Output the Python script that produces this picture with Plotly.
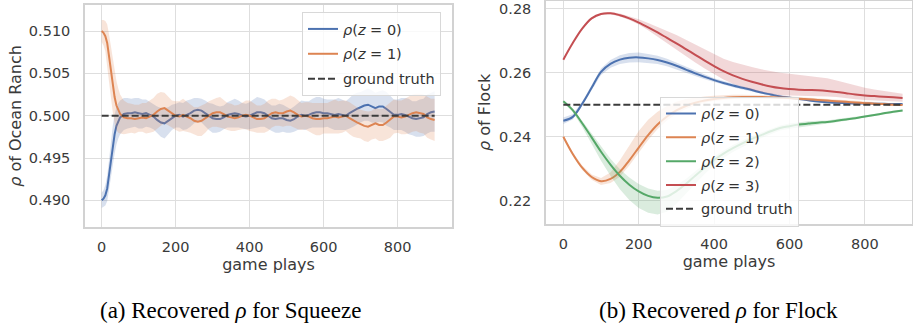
import plotly.graph_objects as go

# ---------------- data: (a) Squeeze ----------------
sq_x = [0, 5, 10, 15, 20, 25, 30, 35, 40, 45, 50] + list(range(60, 901, 10))
sq_blue = [.4900, .4902, .4906, .4914, .4930, .4948, .4965, .4978, .4988, .4994, .4998,
           .5002, .5003, .5003, .5004, .5003, .5002, .5003, .5001, .4999, .4995,
           .4992, .4991, .4994, .4998, .5000, .5001, .4999, .5001, .5003, .5006,
           .5007, .5006, .5003, .4999, .4997, .4996, .4996, .4998, .5001, .5002,
           .5003, .5002, .5000, .4999, .5000, .5002, .5004, .5004, .5003, .5000,
           .4997, .4996, .4997, .4997, .4995, .4994, .4996, .4999, .5001, .5000,
           .5001, .5003, .5004, .5004, .5003, .5003, .5002, .5001, .5002, .5001,
           .5000, .5003, .5006, .5008, .5010, .5012, .5013, .5011, .5009, .5011,
           .5011, .5008, .5005, .5001, .5001, .5002, .5001, .4999, .4997, .4996,
           .4997, .4998, .5002, .5004, .5005]
sq_orange = [.5100, .5098, .5094, .5086, .5070, .5052, .5035, .5022, .5012, .5006, .5002,
             .4998, .4997, .4997, .4996, .4997, .4998, .4997, .4999, .5001, .5005,
             .5008, .5009, .5006, .5002, .5000, .4999, .5001, .4999, .4997, .4994,
             .4993, .4994, .4997, .5001, .5003, .5004, .5004, .5002, .4999, .4998,
             .4997, .4998, .5000, .5001, .5000, .4998, .4996, .4996, .4997, .5000,
             .5003, .5004, .5003, .5003, .5005, .5006, .5004, .5001, .4999, .5000,
             .4999, .4997, .4996, .4996, .4997, .4997, .4998, .4999, .4998, .4999,
             .5000, .4997, .4994, .4992, .4990, .4988, .4987, .4989, .4991, .4989,
             .4989, .4992, .4995, .4999, .4999, .4998, .4999, .5001, .5003, .5004,
             .5003, .5002, .4998, .4996, .4995]
# band half widths, in units of 1e-4
sq_blue_hw = [9, 10, 12, 15, 18, 21, 23, 23, 22, 21, 20,
              19, 18, 17, 17, 18, 17, 16, 15, 15, 16,
              17, 18, 16, 15, 14, 15, 16, 17, 16, 15,
              14, 14, 15, 16, 17, 16, 15, 14, 15, 16,
              17, 16, 15, 15, 16, 17, 18, 17, 16, 15,
              15, 16, 17, 16, 15, 14, 15, 16, 17, 17,
              16, 17, 18, 18, 17, 16, 17, 18, 19, 18,
              17, 18, 19, 19, 18, 18, 19, 19, 18, 18,
              19, 20, 19, 18, 18, 19, 20, 21, 20, 21,
              22, 22, 23, 23, 24]
sq_orange_hw = [13, 15, 18, 22, 26, 29, 31, 31, 29, 26, 23,
                20, 18, 17, 17, 16, 17, 18, 19, 20, 21,
                20, 18, 17, 16, 17, 18, 19, 18, 17, 16,
                17, 18, 17, 16, 16, 17, 18, 17, 16, 16,
                15, 15, 16, 17, 18, 17, 16, 16, 17, 18,
                17, 16, 15, 16, 17, 18, 18, 17, 16, 16,
                17, 18, 19, 19, 18, 18, 19, 20, 19, 19,
                18, 19, 19, 18, 17, 18, 18, 17, 18, 19,
                19, 20, 21, 20, 19, 20, 21, 22, 22, 22,
                23, 23, 24, 24, 25]
sq_truth = 0.5

# ---------------- data: (b) Flock ----------------
fl_x = list(range(0, 901, 25))
fl_blue = [.2450, .2462, .2503, .2553, .2603, .2628, .2641, .2647, .2648, .2645, .2640,
           .2632, .2622, .2610, .2598, .2587, .2577, .2568, .2560, .2553, .2546, .2538,
           .2532, .2526, .2522, .2518, .2514, .2510, .2508, .2506, .2505, .2504, .2504,
           .2503, .2503, .2502, .2502]
fl_orange = [.2400, .2346, .2303, .2274, .2261, .2268, .2290, .2326, .2366, .2405, .2438,
             .2463, .2482, .2496, .2506, .2513, .2518, .2521, .2523, .2524, .2524, .2524,
             .2523, .2522, .2521, .2519, .2517, .2515, .2513, .2511, .2509, .2507, .2505,
             .2503, .2502, .2500, .2499]
fl_green = [.2511, .2483, .2442, .2398, .2353, .2313, .2278, .2250, .2229, .2215, .2209,
            .2213, .2230, .2252, .2278, .2303, .2327, .2347, .2364, .2379, .2393, .2405,
            .2417, .2427, .2433, .2438, .2441, .2444, .2446, .2450, .2454, .2458, .2463,
            .2468, .2473, .2478, .2482]
fl_red = [.2641, .2693, .2738, .2770, .2784, .2786, .2780, .2770, .2757, .2742, .2726,
          .2709, .2692, .2674, .2656, .2638, .2621, .2605, .2592, .2581, .2572, .2564,
          .2557, .2552, .2549, .2547, .2546, .2545, .2543, .2540, .2536, .2532, .2529,
          .2527, .2525, .2523, .2521]
# band spreads below / above the line, units of 1e-4
fl_blue_lo = [10, 8, 6, 8, 10, 12, 14, 15, 15, 14, 13, 12, 10, 9, 8, 7, 6, 6, 5, 5, 5, 4,
              4, 4, 4, 3, 3, 3, 3, 3, 3, 3, 2, 2, 2, 2, 2]
fl_blue_hi = fl_blue_lo
fl_orange_lo = [3, 5, 7, 9, 12, 13, 15, 16, 16, 15, 14, 12, 10, 9, 8, 7, 6, 6, 5, 5, 5, 5,
                4, 4, 4, 4, 4, 3, 3, 3, 3, 3, 3, 3, 3, 3, 3]
fl_orange_hi = [3, 5, 7, 8, 10, 20, 36, 47, 52, 48, 40, 33, 27, 22, 17, 13, 10, 9, 8, 7, 7, 6,
                6, 6, 5, 5, 5, 5, 4, 4, 4, 4, 4, 3, 3, 3, 3]
fl_green_lo = [3, 6, 12, 20, 28, 35, 42, 48, 52, 53, 52, 48, 40, 33, 26, 20, 16, 14, 12, 11,
               10, 9, 9, 8, 8, 7, 7, 6, 5, 5, 4, 4, 3, 3, 3, 3, 3]
fl_green_hi = [3, 5, 8, 12, 15, 18, 20, 22, 23, 23, 22, 20, 18, 16, 14, 12, 11, 10, 10, 9,
               9, 8, 8, 8, 8, 7, 7, 6, 5, 5, 4, 4, 3, 3, 3, 3, 3]
fl_red_lo = [2, 2, 3, 3, 3, 3, 4, 5, 6, 9, 12, 16, 20, 22, 24, 25, 26, 26, 26, 25, 25, 24,
             23, 22, 21, 20, 19, 18, 17, 16, 15, 15, 14, 14, 13, 13, 12]
fl_red_hi = [2, 2, 3, 3, 3, 4, 5, 7, 10, 14, 18, 22, 26, 29, 32, 34, 36, 39, 42, 44, 46, 47,
             48, 48, 48, 47, 45, 43, 40, 36, 32, 28, 24, 21, 18, 15, 13]
fl_truth = 0.25

ticks_x = [0, 200, 400, 600, 800]
sq_ticks_y = [0.490, 0.495, 0.500, 0.505, 0.510]
fl_ticks_y = [0.22, 0.24, 0.26, 0.28]

# ---------------- styling ----------------
COL = {"blue": (76, 114, 176), "orange": (221, 132, 82),
       "green": (85, 168, 104), "red": (196, 78, 82)}
FONT = "DejaVu Sans"
W, H = 913, 327

fig = go.Figure()


def add_series(x, y, lo, hi, key, name, xa, ya, legend):
    r, g, b = COL[key]
    lower = [v - d * 1e-4 for v, d in zip(y, lo)]
    upper = [v + d * 1e-4 for v, d in zip(y, hi)]
    fig.add_trace(go.Scatter(
        x=list(x) + list(x)[::-1], y=upper + lower[::-1],
        fill="toself", fillcolor=f"rgba({r},{g},{b},0.22)",
        line=dict(width=0), hoverinfo="skip", showlegend=False,
        legendgroup=name + legend, legend=legend, xaxis=xa, yaxis=ya))
    fig.add_trace(go.Scatter(
        x=x, y=y, mode="lines", name=name,
        line=dict(color=f"rgb({r},{g},{b})", width=2,
                  shape="spline" if xa == "x2" else "linear"),
        legendgroup=name + legend, legend=legend, xaxis=xa, yaxis=ya))


def rho(z):
    return f"<i>ρ</i>(<i>z</i> = {z})"


add_series(sq_x, sq_blue, sq_blue_hw, sq_blue_hw, "blue", rho(0), "x", "y", "legend")
add_series(sq_x, sq_orange, sq_orange_hw, sq_orange_hw, "orange", rho(1), "x", "y", "legend")
fig.add_trace(go.Scatter(x=[sq_x[0], sq_x[-1]], y=[sq_truth, sq_truth], mode="lines",
                         name="ground truth", legendgroup="gt1", legend="legend",
                         line=dict(color="#3c3c3c", width=2, dash="7px,3px"),
                         xaxis="x", yaxis="y"))

add_series(fl_x, fl_blue, fl_blue_lo, fl_blue_hi, "blue", rho(0), "x2", "y2", "legend2")
add_series(fl_x, fl_orange, fl_orange_lo, fl_orange_hi, "orange", rho(1), "x2", "y2", "legend2")
add_series(fl_x, fl_green, fl_green_lo, fl_green_hi, "green", rho(2), "x2", "y2", "legend2")
add_series(fl_x, fl_red, fl_red_lo, fl_red_hi, "red", rho(3), "x2", "y2", "legend2")
fig.add_trace(go.Scatter(x=[fl_x[0], fl_x[-1]], y=[fl_truth, fl_truth], mode="lines",
                         name="ground truth", legendgroup="gt2", legend="legend2",
                         line=dict(color="#3c3c3c", width=2, dash="7px,3px"),
                         xaxis="x2", yaxis="y2"))

axis_common = dict(showgrid=True, gridcolor="#dedede", gridwidth=1.2,
                   showline=True, linecolor="#d2d2d2", linewidth=1.5, mirror=True,
                   zeroline=False, ticks="",
                   tickfont=dict(family=FONT, size=14.5, color="#3a3a3a"),
                   title_font=dict(family=FONT, size=16, color="#3a3a3a"))

fig.update_layout(
    width=W, height=H, margin=dict(l=0, r=0, t=0, b=0),
    paper_bgcolor="white", plot_bgcolor="white",
    xaxis=dict(domain=[85 / W, 452 / W], range=[-45, 947], anchor="y",
               tickvals=ticks_x, title=dict(text="game plays", standoff=4),
               ticklabelstandoff=6, **axis_common),
    yaxis=dict(domain=[1 - 227 / H, 1 - 5 / H], range=[0.48685, 0.51308], anchor="x",
               tickvals=sq_ticks_y, tickformat=".3f",
               title=dict(text="<i>ρ</i> of Ocean Ranch", standoff=3),
               ticklabelstandoff=10, **axis_common),
    xaxis2=dict(domain=[546 / W, 912 / W], range=[-46, 925], anchor="y2",
                tickvals=ticks_x, title=dict(text="game plays", standoff=4),
                ticklabelstandoff=6, **axis_common),
    yaxis2=dict(domain=[1 - 224.3 / H, 1 - 0.5 / H], range=[0.2126, 0.2826], anchor="x2",
                tickvals=fl_ticks_y, tickformat=".2f",
                title=dict(text="<i>ρ</i> of Flock", standoff=4),
                ticklabelstandoff=10, **axis_common),
    legend=dict(x=302 / W, y=1 - 12 / H, xanchor="left", yanchor="top",
                bgcolor="rgba(255,255,255,0.8)", bordercolor="#d8d8d8", borderwidth=1,
                font=dict(family=FONT, size=14.5, color="#333333"),
                traceorder="grouped", tracegroupgap=3),
    legend2=dict(x=660 / W, y=1 - 96.5 / H, xanchor="left", yanchor="top",
                 bgcolor="rgba(255,255,255,0.8)", bordercolor="#d8d8d8", borderwidth=1,
                 font=dict(family=FONT, size=14.5, color="#333333"),
                 traceorder="grouped", tracegroupgap=2),
    showlegend=True,
)

caption_font = dict(family="Liberation Serif", size=23, color="black")
fig.add_annotation(text="(a) Recovered <i>ρ</i> for Squeeze", xref="paper", yref="paper",
                   x=231 / W, y=1 - 310 / H, xanchor="center", yanchor="middle",
                   showarrow=False, font=caption_font)
fig.add_annotation(text="(b) Recovered <i>ρ</i> for Flock", xref="paper", yref="paper",
                   x=718 / W, y=1 - 310 / H, xanchor="center", yanchor="middle",
                   showarrow=False, font=caption_font)

fig.write_html("out.html", config={"displayModeBar": False},
               post_script="document.body.style.margin='0';document.body.style.overflow='hidden';")
